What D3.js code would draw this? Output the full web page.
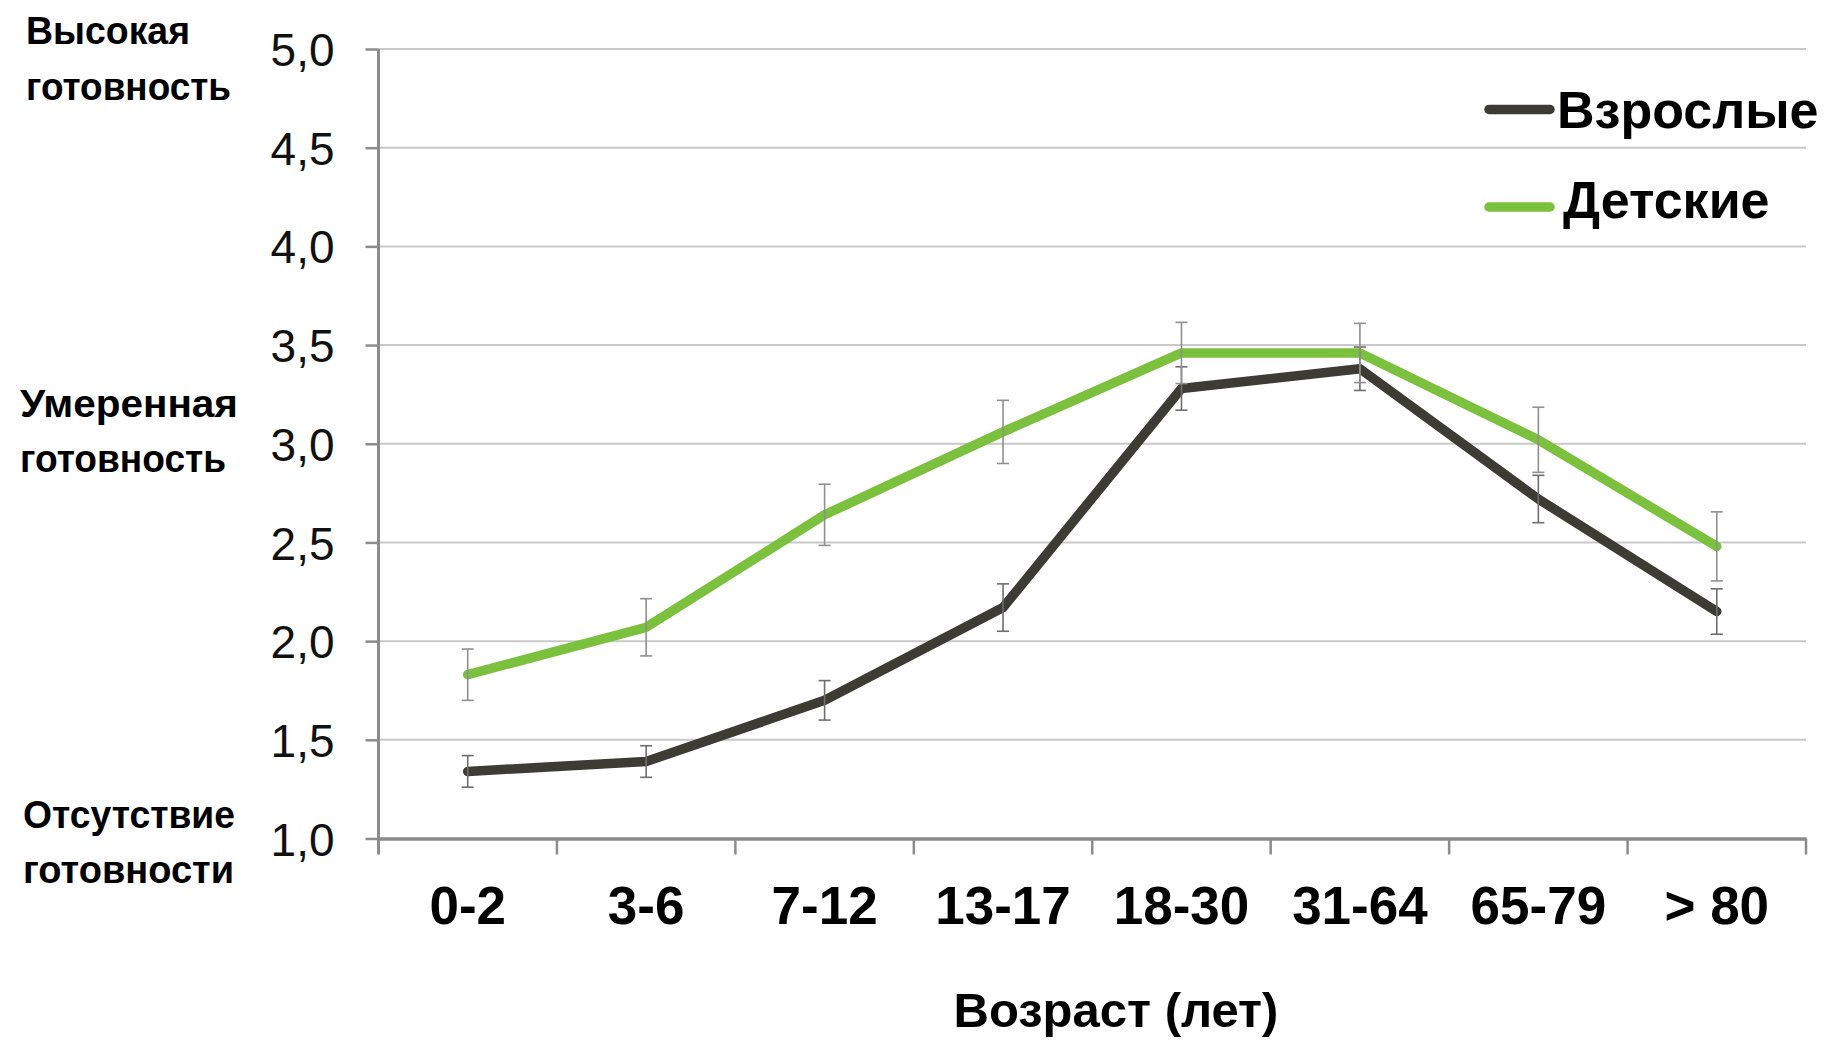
<!DOCTYPE html>
<html><head><meta charset="utf-8">
<script src="https://cdn.jsdelivr.net/npm/d3@7"></script>
<style>
html,body{margin:0;padding:0;background:#fff;}
svg{display:block;}
</style></head>
<body>
<svg id="chart" width="1827" height="1040"></svg>
<script>
const categories = ["0-2","3-6","7-12","13-17","18-30","31-64","65-79","> 80"];
const adults = [1.34,1.39,1.70,2.17,3.28,3.38,2.72,2.15];
const adultsErr = [0.08,0.08,0.10,0.12,0.11,0.11,0.12,0.115];
const kids = [1.83,2.07,2.64,3.06,3.46,3.46,3.02,2.48];
const kidsErr = [0.13,0.145,0.155,0.16,0.155,0.15,0.165,0.175];
const yTicks = [1.0,1.5,2.0,2.5,3.0,3.5,4.0,4.5,5.0];
const seriesNames = ["Взрослые","Детские"];
const seriesColors = ["#3c3c34","#7bc13e"];
const sideLabels = [
  {v:5.0, lines:["Высокая","готовность"]},
  {v:3.0, lines:["Умеренная","готовность"]},
  {v:1.0, lines:["Отсутствие","готовности"]}
];
const xTitle = "Возраст (лет)";

const svg = d3.select("#chart");
const x0 = 378.5, x1 = 1806, yB = 838.5, yT = 49;
const x = d3.scaleBand().domain(categories).range([x0, x1]).padding(0);
const y = d3.scaleLinear().domain([1,5]).range([yB, yT]);

// gridlines
svg.append("g").selectAll("line").data(yTicks.filter(t => t > 1))
  .join("line")
  .attr("x1", x0).attr("x2", x1)
  .attr("y1", d => y(d)).attr("y2", d => y(d))
  .attr("stroke", "#c9c9c9").attr("stroke-width", 2);

// y axis
const yAxis = svg.append("g").attr("transform", `translate(${x0},0)`)
  .call(d3.axisLeft(y).tickValues(yTicks).tickSize(13).tickPadding(31)
    .tickFormat(d => d3.format(".1f")(d).replace(".", ",")));
yAxis.select(".domain").remove();
yAxis.selectAll(".tick line").attr("stroke", "#8c8c8c").attr("stroke-width", 2.5);
yAxis.selectAll(".tick text").attr("font-family", "'Liberation Sans', Arial, sans-serif")
  .attr("font-size", 46).attr("fill", "#111").attr("dy", "0.36em");
svg.append("line").attr("x1", x0).attr("x2", x0).attr("y1", yT).attr("y2", yB + 16)
  .attr("stroke", "#8c8c8c").attr("stroke-width", 3);

// x axis
const xAxis = svg.append("g").attr("transform", `translate(0,${yB})`)
  .call(d3.axisBottom(x).tickSize(0).tickSizeOuter(0));
xAxis.select(".domain").attr("stroke", "#8c8c8c").attr("stroke-width", 3.5);
xAxis.selectAll(".tick text").attr("y", 85).attr("dy", 0)
  .attr("font-family", "'Liberation Sans', Arial, sans-serif")
  .attr("font-weight", "bold").attr("font-size", 53).attr("fill", "#000");
const bounds = categories.map(c => x(c)).concat([x1]);
svg.append("g").selectAll("line").data(bounds.slice(1)).join("line")
  .attr("x1", d => d).attr("x2", d => d).attr("y1", yB).attr("y2", yB + 16)
  .attr("stroke", "#8c8c8c").attr("stroke-width", 2.5);

// x title
svg.append("text").attr("x", 1116).attr("y", 1027).attr("text-anchor", "middle")
  .attr("font-family", "'Liberation Sans', Arial, sans-serif").attr("font-weight", "bold")
  .attr("font-size", 49).attr("fill", "#000").text(xTitle);

// side labels
const sideY = [[44,100],[417,472],[828,883]];
const sideX = [26,20,23];
const sideW = [[164,205],[218,206],[212,211]];
sideLabels.forEach((s, i) => {
  const t = svg.append("text").attr("font-family", "'Liberation Sans', Arial, sans-serif")
    .attr("font-weight", "bold").attr("font-size", 38).attr("fill", "#000");
  s.lines.forEach((ln, j) => {
    t.append("tspan").attr("x", sideX[i]).attr("y", sideY[i][j])
      .attr("textLength", sideW[i][j]).attr("lengthAdjust", "spacingAndGlyphs").text(ln);
  });
});

// lines
const cx = d => x(d) + x.bandwidth() / 2;
const line = d3.line().x(d => cx(d.c)).y(d => y(d.v));
const series = [adults, kids].map((vals, i) => ({
  name: seriesNames[i], color: seriesColors[i], err: [adultsErr, kidsErr][i],
  pts: vals.map((v, k) => ({c: categories[k], v: v}))
}));
series.slice().reverse().forEach(s => {
  svg.append("path").datum(s.pts).attr("d", line).attr("fill", "none")
    .attr("stroke", s.color).attr("stroke-width", 9.5)
    .attr("stroke-linejoin", "round").attr("stroke-linecap", "round");
});
// error bars
series.forEach((s, si) => {
  const g = svg.append("g").attr("stroke", si === 0 ? "#6e6e6e" : "#8f8f8f").attr("stroke-width", 1.6);
  s.pts.forEach((p, k) => {
    const xc = cx(p.c), hi = y(p.v + s.err[k]), lo = y(p.v - s.err[k]);
    g.append("line").attr("x1", xc).attr("x2", xc).attr("y1", hi).attr("y2", lo);
    g.append("line").attr("x1", xc - 6).attr("x2", xc + 6).attr("y1", hi).attr("y2", hi);
    g.append("line").attr("x1", xc - 6).attr("x2", xc + 6).attr("y1", lo).attr("y2", lo);
  });
});

// legend
const legY = [109.5, 207];
const legT = [128, 218];
series.forEach((s, i) => {
  svg.append("line").attr("x1", 1489).attr("x2", 1550).attr("y1", legY[i]).attr("y2", legY[i])
    .attr("stroke", s.color).attr("stroke-width", 9.5).attr("stroke-linecap", "round");
  svg.append("text").attr("x", i === 0 ? 1557 : 1563).attr("y", legT[i])
    .attr("font-family", "'Liberation Sans', Arial, sans-serif").attr("font-weight", "bold")
    .attr("font-size", 52).attr("fill", "#000").text(s.name);
});
</script>
</body></html>
